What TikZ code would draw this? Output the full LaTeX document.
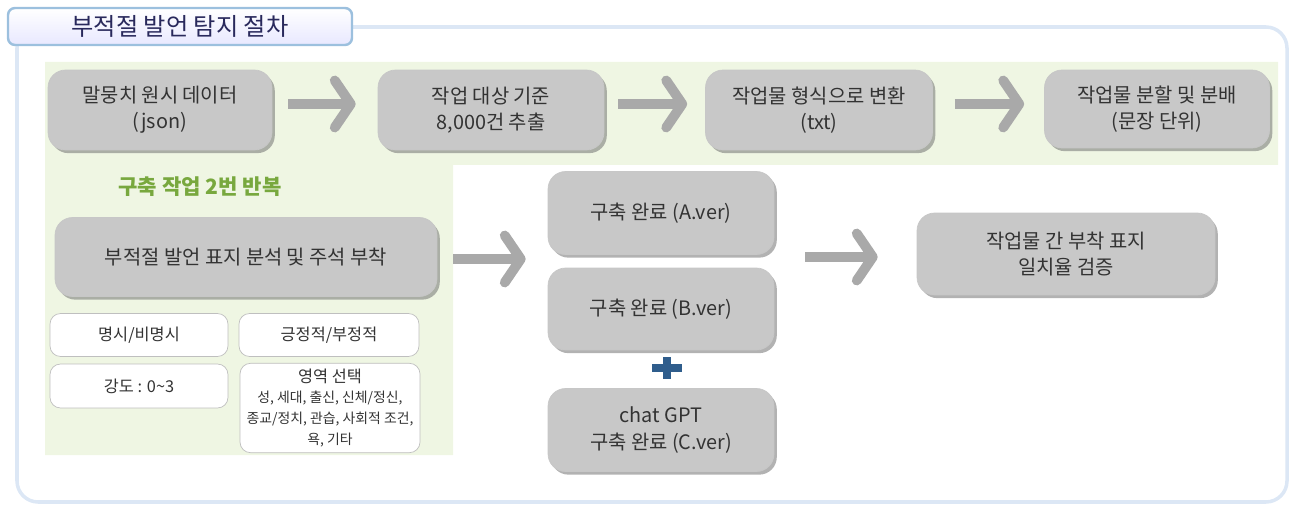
\documentclass[tikz,border=0pt]{standalone}
\usepackage{fontspec}
\setmainfont{Noto Sans CJK KR}
\usepackage{tikz}
\usetikzlibrary{arrows.meta,positioning,shadows}
\definecolor{boxgray}{HTML}{C8C8C8}
\definecolor{arrowgray}{HTML}{A9A9A9}
\definecolor{txtgray}{HTML}{333333}
\definecolor{leafgreen}{HTML}{EFF6E3}
\definecolor{labelgreen}{HTML}{78A83E}
\definecolor{framblue}{HTML}{DCE7F5}
\definecolor{tabblue}{HTML}{9CC0DE}
\definecolor{plusblue}{HTML}{2F5D8C}
\def\px{0.02cm}
\def\areafont{\fontsize{7.9}{9.4}\selectfont}

\tikzset{
  stepbox/.style={rounded corners=10pt, fill=boxgray, draw=black!22, text=txtgray,
    align=center, font=\fontsize{11.3}{15}\selectfont,
    drop shadow={shadow xshift=1.6pt, shadow yshift=-1.8pt, fill=black!55, opacity=0.55}},
  tagbox/.style={rounded corners=6pt, fill=white, draw=black!25, text=txtgray,
    align=center, font=\fontsize{9.3}{12}\selectfont},
  flowarrow/.style={draw=arrowgray, line width=5.6pt,
    -{Straight Barb[length=3.2mm, width=9.4mm, round]}},
}

\begin{document}
\begin{tikzpicture}[x=0.02cm, y=-0.02cm]
\useasboundingbox (0,0) rectangle (1291,506);
% outer frame and title tab
\draw[framblue, line width=2pt, rounded corners=12pt] (17,27) rectangle (1287,502);
\shade[top color=white, bottom color=blue!9, draw=tabblue, line width=1.4pt, rounded corners=4pt]
  (8,8) rectangle (352,45);
\node[text=txtgray!80!blue, font=\fontsize{13.8}{15}\selectfont] (title) at (180,26) {부적절 발언 탐지 절차};
% green background
\fill[leafgreen] (45,62) -- (1278,62) -- (1278,165) -- (453,165) -- (453,455) -- (45,455) -- cycle;
% top row
\node[stepbox, minimum width=4.48cm, minimum height=1.6cm] (raw)   at (160,110) {말뭉치 원시 데이터\\(json)};
\node[stepbox, minimum width=4.52cm, minimum height=1.6cm] (pick)  at (491,110) {작업 대상 기준\\8,000건 추출};
\node[stepbox, minimum width=4.54cm, minimum height=1.6cm] (conv)  at (819,110) {작업물 형식으로 변환\\(txt)};
\node[stepbox, minimum width=4.5cm, minimum height=1.56cm] (split) at (1157,109) {작업물 분할 및 분배\\(문장 단위)};
\draw[flowarrow] ([xshift=16*\px]raw.east |- 0,104) -- ([xshift=-22*\px]pick.west |- 0,104);
\draw[flowarrow] ([xshift=14*\px]pick.east |- 0,104) -- ([xshift=-18*\px]conv.west |- 0,104);
\draw[flowarrow] ([xshift=22*\px]conv.east |- 0,104) -- ([xshift=-20*\px]split.west |- 0,104);
% annotation block
\node[text=labelgreen, font=\fontsize{12}{14}\selectfont\bfseries] (repeat) at (200,187) {구축 작업 2번 반복};
\node[stepbox, minimum width=7.64cm, minimum height=1.58cm] (annot) at (246,257) {부적절 발언 표지 분석 및 주석 부착};
\node[tagbox, minimum width=3.56cm, minimum height=0.86cm] (expl)  at (139,335) {명시/비명시};
\node[tagbox, minimum width=3.6cm, minimum height=0.86cm]  (pol)   at (329,335) {긍정적/부정적};
\node[tagbox, minimum width=3.56cm, minimum height=0.88cm] (level) at (139,386) {강도 : 0\textasciitilde 3};
\node[tagbox, minimum width=3.6cm, minimum height=1.78cm]  (area)  at (330,408)
  {영역 선택\\[-1pt]\areafont 성, 세대, 출신, 신체/정신,\\\areafont 종교/정치, 관습, 사회적 조건,\\\areafont 욕, 기타};
% versions
\node[stepbox, minimum width=4.52cm, minimum height=1.66cm] (verA) at (661,213) {구축 완료 (A.ver)};
\node[stepbox, minimum width=4.52cm, minimum height=1.64cm] (verB) at (661,309) {구축 완료 (B.ver)};
\node[stepbox, minimum width=4.52cm, minimum height=1.66cm] (verC) at (661,430) {chat GPT\\구축 완료 (C.ver)};
\coordinate (plus) at (667,368);
\fill[plusblue] ([xshift=-15*\px,yshift=-4*\px]plus) rectangle ([xshift=15*\px,yshift=4*\px]plus);
\fill[plusblue] ([xshift=-4*\px,yshift=-11*\px]plus) rectangle ([xshift=4*\px,yshift=11*\px]plus);
\draw[flowarrow] ([xshift=16*\px]annot.east |- 0,259) -- ([xshift=-22*\px]verA.west |- 0,259);
% agreement check
\node[stepbox, minimum width=5.96cm, minimum height=1.64cm] (agree) at (1066,254) {작업물 간 부착 표지\\일치율 검증};
\draw[flowarrow] ([xshift=31*\px]verA.east |- 0,257) -- ([xshift=-39*\px]agree.west |- 0,257);
\end{tikzpicture}
\end{document}
